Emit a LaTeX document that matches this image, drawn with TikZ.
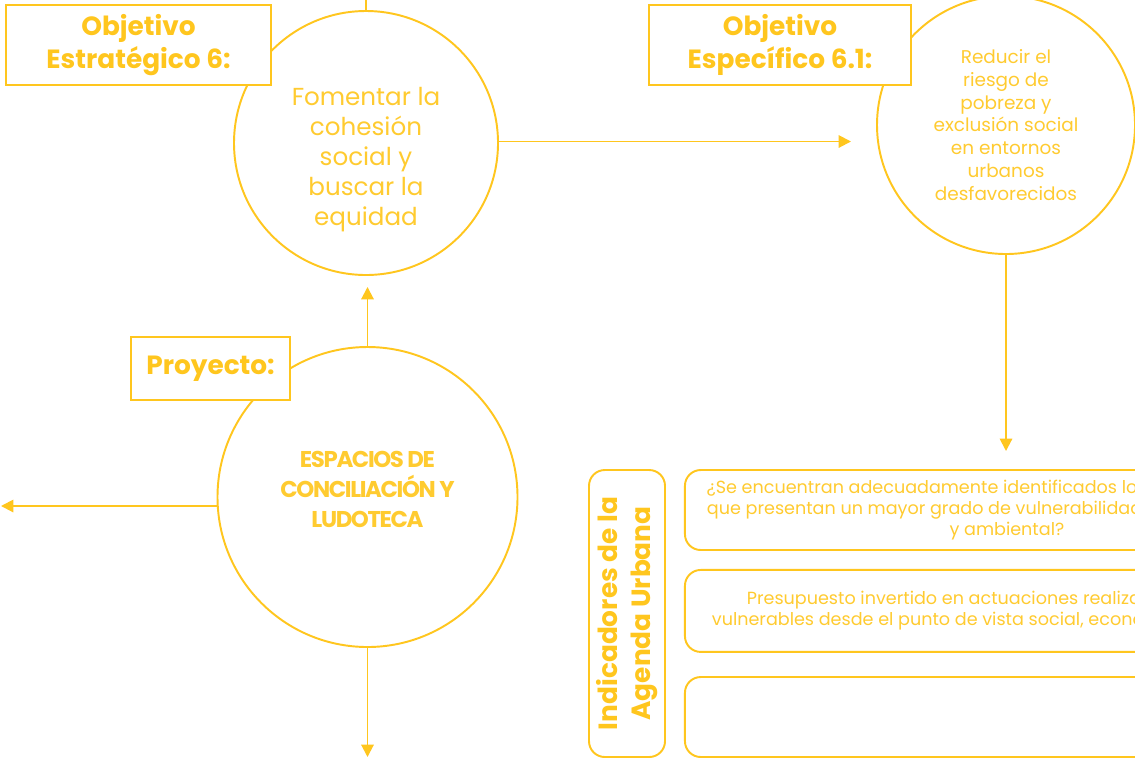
\documentclass[tikz,border=0pt]{standalone}
\usepackage{fontspec}
\setmainfont{Poppins}
\usepackage{tikz}
\usetikzlibrary{
  arrows.meta,
  positioning,
  calc
}
\definecolor{aguayellow}{HTML}{FFC61E}
\definecolor{aguatext}{HTML}{FFCB30}

\begin{document}
\begin{tikzpicture}[
    >={Triangle[length=7pt,width=7pt]},
    % Styles
    goal/.style={
        circle, draw=aguayellow, line width=1.1pt,
        fill=white, text=aguatext,
        minimum size=#1,
        align=center, inner sep=0pt
    },
    tag/.style={
        rectangle, draw=aguayellow, line width=1.1pt,
        fill=white, text=aguayellow,
        font=\bfseries\fontsize{15}{19}\selectfont,
        align=center
    },
    indbox/.style={
        rectangle, rounded corners=9pt,
        draw=aguayellow, line width=1.1pt,
        fill=white, text=aguatext,
        minimum width=12.88cm, minimum height=1.6cm,
        font=\fontsize{10}{11.8}\selectfont,
        align=center
    },
    connector/.style={->, line width=1.1pt, color=aguayellow}
]

\useasboundingbox (0,0) rectangle (22.7,-15.26);
\clip (0,0) rectangle (22.7,-15.26);
\fill[white] (0,0) rectangle (22.7,-15.26);

% ── CIRCLES ──
\node[goal=5.28cm, font=\fontsize{14}{17}\selectfont] (goalsix) at (7.32,-2.86)
    {\mbox{}\\[12pt]Fomentar la\\cohesión\\social y\\buscar la\\equidad};

\node[goal=5.16cm, font=\fontsize{10.5}{13}\selectfont] (specific) at (20.12,-2.5)
    {Reducir el\\riesgo de\\pobreza y\\exclusión social\\en entornos\\urbanos\\desfavorecidos};

\node[goal=6cm, font=\bfseries\fontsize{13}{17}\selectfont] (project) at (7.35,-9.94)
    {\addfontfeature{LetterSpace=-6}ESPACIOS DE\\\addfontfeature{LetterSpace=-6}CONCILIACIÓN Y\\\addfontfeature{LetterSpace=-6}LUDOTECA\\[-8pt]\mbox{}};

% ── FREE ENDS ──
\coordinate (topend) at (7.32,0.3);
\coordinate (specin) at (17.02,-2.83);
\coordinate (specout) at (20.12,-9.02);
\coordinate (leftend) at (0.02,-10.12);
\coordinate (downend) at (7.38,-15.14);

% ── CONNECTORS ──
\draw[line width=1.1pt, aguayellow] (goalsix.north) -- (topend);
\draw[connector] (goalsix.east |- specin) -- (specin);
\draw[connector] (specific.south) -- (specout);
\draw[connector, shorten >=0.22cm] (project.north) -- (project.north |- goalsix.south);
\draw[connector] (project.west |- leftend) -- (leftend);
\draw[connector] (project.south) -- (project.south |- downend);

% ── LABEL BOXES ──
\node[tag, minimum width=5.3cm, minimum height=1.6cm] (goallbl) at (2.77,-0.9)
    {Objetivo\\Estratégico 6:};
\node[tag, minimum width=5.24cm, minimum height=1.6cm] (speclbl) at (15.6,-0.9)
    {Objetivo\\Específico 6.1:};
\node[tag, minimum width=3.18cm, minimum height=1.26cm] (projlbl) at (4.21,-7.37)
    {Proyecto:};

% ── INDICADORES ──
\node[rectangle, rounded corners=9pt, draw=aguayellow, line width=1.1pt,
      minimum width=1.52cm, minimum height=5.74cm] (agenda) at (12.54,-12.27) {};
\node[rotate=90, text=aguayellow, align=center,
      font=\bfseries\fontsize{15}{19}\selectfont] (agendalbl) at (agenda.center)
    {Indicadores de la\\Agenda Urbana};

\node[indbox, right=0.36cm of agenda.north east, anchor=north west] (ind1)
    {¿Se encuentran adecuadamente identificados los entornos urbanos\\
     que presentan un mayor grado de vulnerabilidad social, económica\\
     y ambiental?};
\node[indbox, below=0.36cm of ind1, minimum height=1.64cm] (ind2)
    {Presupuesto invertido en actuaciones realizadas en barrios\\
     vulnerables desde el punto de vista social, económico y ambiental.};
\node[indbox, anchor=south west] (ind3) at (agenda.south east -| ind1.west) {};

\end{tikzpicture}
\end{document}
